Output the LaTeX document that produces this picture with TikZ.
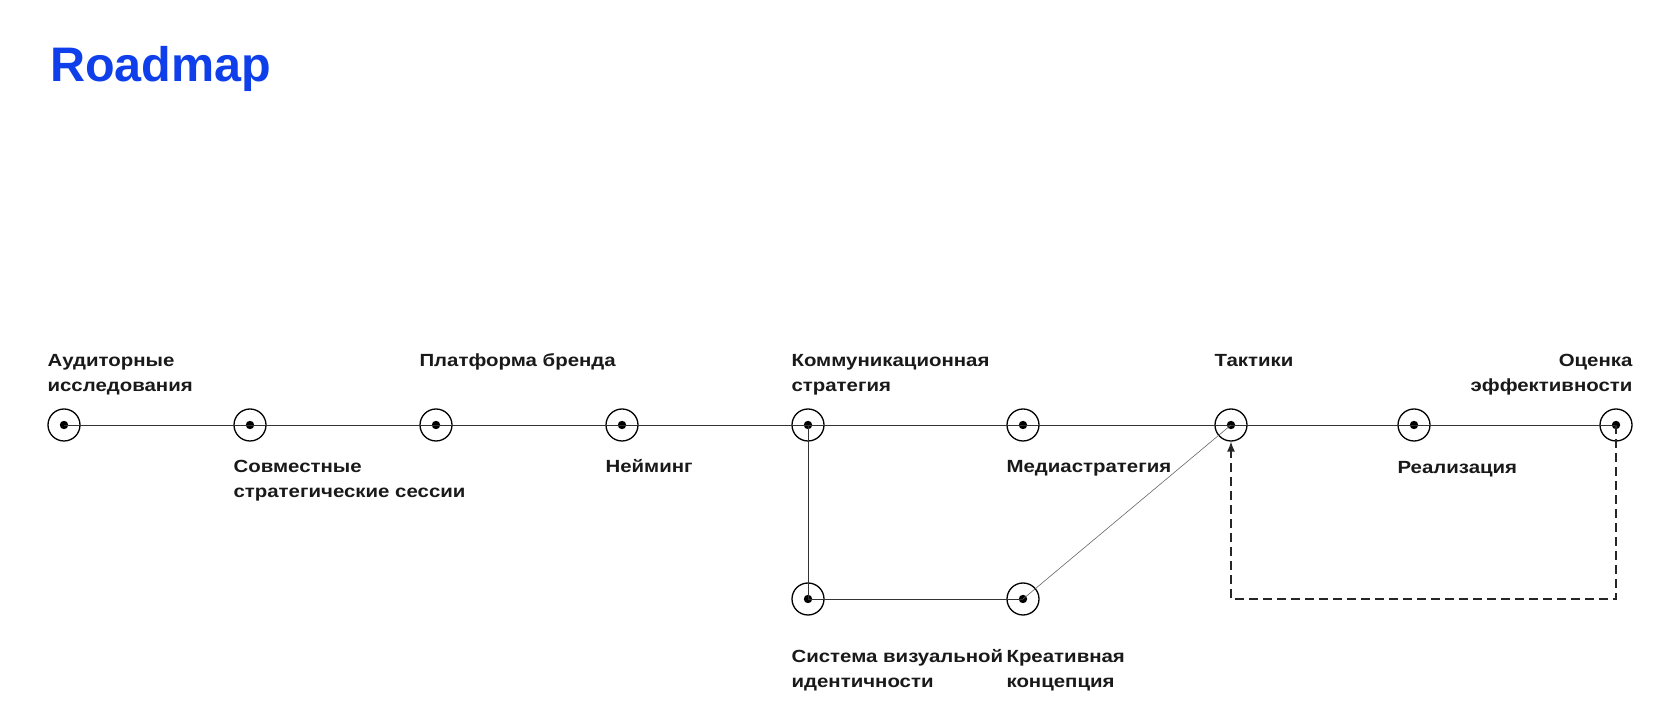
\documentclass[tikz,border=0pt]{standalone}
\usepackage{fontspec}
\setmainfont{Liberation Sans}
\newfontfamily\stagefont{Liberation Sans}[FakeStretch=1.16]
\usetikzlibrary{arrows.meta, positioning}
\definecolor{roadblue}{HTML}{0F3FEA}
\tikzset{
  stop/.style={circle, draw=black, line width=1.3pt, minimum size=32pt, inner sep=0pt,
               path picture={\fill[black] (path picture bounding box.center) circle (4.2pt);}},
  lbl/.style={font={\stagefont\bfseries\fontsize{17.6}{25}\selectfont}, align=left,
              inner sep=0pt, text=black!90},
  track/.style={draw=black!80, line width=0.9pt},
  feed/.style={draw=black!85, line width=1.3pt, dash pattern=on 9pt off 5pt,
               -{Latex[length=10pt, width=8pt]}},
}

\begin{document}
\begin{tikzpicture}[x=1pt, y=1pt, node distance=186pt, on grid]
\useasboundingbox (0,0) rectangle (1680,709);
\node[anchor=base west, inner sep=0pt, text=roadblue,
      font={\bfseries\fontsize{48.5}{50}\selectfont}] (title) at (50,627) {Roadmap};

% stops on the main line
\node[stop] (aud) at (64,284) {};
\node[stop, right=of aud] (joint) {};
\node[stop, right=of joint] (plat) {};
\node[stop, right=of plat] (name) {};
\node[stop, right=of name] (comm) {};
\node[stop, right=215pt of comm] (media) {};
\node[stop, right=208pt of media] (tact) {};
\node[stop, right=183pt of tact] (impl) {};
\node[stop, right=202pt of impl] (eval) {};
% branch below
\node[stop, below=174pt of comm] (ident) {};
\node[stop, below=174pt of media] (idea) {};

% labels (base = last line)
\node[lbl, anchor=base west] (aud-l) at ([yshift=33pt]aud.west)
  {Аудиторные\\исследования};
\node[lbl, anchor=base west] (joint-l) at ([yshift=-73pt]joint.west)
  {Совместные\\стратегические сессии};
\node[lbl, anchor=base west] (plat-l) at ([yshift=58pt]plat.west) {Платформа бренда};
\node[lbl, anchor=base west] (name-l) at ([yshift=-48pt]name.west) {Нейминг};
\node[lbl, anchor=base west] (comm-l) at ([yshift=33pt]comm.west)
  {Коммуникационная\\стратегия};
\node[lbl, anchor=base west] (media-l) at ([yshift=-48pt]media.west) {Медиастратегия};
\node[lbl, anchor=base west] (tact-l) at ([yshift=58pt]tact.west) {Тактики};
\node[lbl, anchor=base west] (impl-l) at ([yshift=-49pt]impl.west) {Реализация};
\node[lbl, anchor=base east, align=right] (eval-l) at ([yshift=33pt]eval.east)
  {Оценка\\эффективности};
\node[lbl, anchor=base west] (ident-l) at ([yshift=-88pt]ident.west)
  {Система визуальной\\идентичности};
\node[lbl, anchor=base west] (idea-l) at ([yshift=-88pt]idea.west)
  {Креативная\\концепция};

% connectors
\draw[track] (aud.center) -- (eval.center);
\draw[track] (comm.center) -- (ident.center) -- (idea.center);
\draw[track, line width=0.6pt, draw=black!60] (idea.center) -- (tact.center);
\draw[feed] (eval.center) -- (eval.center |- idea.center)
  -- (tact.center |- idea.center) -- (tact.south);
\end{tikzpicture}
\end{document}
